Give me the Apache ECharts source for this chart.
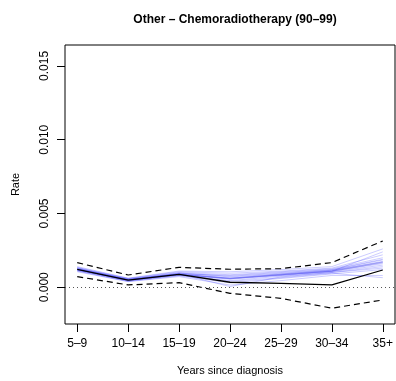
<!DOCTYPE html>
<html>
<head>
<meta charset="UTF-8">
<title>Other – Chemoradiotherapy (90–99)</title>
<script src="https://cdn.jsdelivr.net/npm/echarts@6/dist/echarts.min.js"></script>
<style>
  html, body { margin: 0; padding: 0; background: #fff; }
  #chart { width: 396px; height: 381px; }
</style>
</head>
<body>
<div id="chart"></div>
<script>
// x categories
var periods = ['5–9', '10–14', '15–19', '20–24', '25–29', '30–34', '35+'];
var yTicks = [0, 0.005, 0.010, 0.015];

// observed rate and its bounds
var observed = [0.00122, 0.00049, 0.00088, 0.00034, 0.00027, 0.00016, 0.00117];
var upper    = [0.00167, 0.00083, 0.00135, 0.00122, 0.00126, 0.00167, 0.00314];
var lower    = [0.00072, 0.00016, 0.00031, -0.00041, -0.00075, -0.00142, -0.00086];

// faint blue simulated lines
var sim1  = [0.00130, 0.00052, 0.00095, 0.00070, 0.00090, 0.00115, 0.00175];
var sim2  = [0.00115, 0.00045, 0.00085, 0.00055, 0.00080, 0.00105, 0.00150];
var sim3  = [0.00135, 0.00060, 0.00105, 0.00095, 0.00110, 0.00130, 0.00220];
var sim4  = [0.00110, 0.00040, 0.00078, 0.00030, 0.00060, 0.00090, 0.00120];
var sim5  = [0.00125, 0.00055, 0.00092, 0.00080, 0.00100, 0.00120, 0.00190];
var sim6  = [0.00105, 0.00038, 0.00072, 0.00015, 0.00045, 0.00080, 0.00080];
var sim7  = [0.00140, 0.00062, 0.00110, 0.00105, 0.00120, 0.00140, 0.00260];
var sim8  = [0.00120, 0.00048, 0.00088, 0.00062, 0.00085, 0.00110, 0.00160];
var sim9  = [0.00118, 0.00050, 0.00090, 0.00005, 0.00070, 0.00100, 0.00140];
var sim10 = [0.00128, 0.00058, 0.00100, 0.00085, 0.00105, 0.00125, 0.00200];
var sim11 = [0.00112, 0.00042, 0.00080, 0.00045, 0.00075, 0.00100, 0.00130];
var sim12 = [0.00132, 0.00054, 0.00096, 0.00075, 0.00095, 0.00118, 0.00185];
var sim13 = [0.00122, 0.00046, 0.00086, 0.00060, 0.00082, 0.00108, 0.00240];
var sim14 = [0.00116, 0.00050, 0.00084, 0.00040, 0.00065, 0.00095, 0.00065];
var simMean = [0.00122, 0.00050, 0.00089, 0.00060, 0.00086, 0.00110, 0.00170];

var sims = [sim1, sim2, sim3, sim4, sim5, sim6, sim7, sim8, sim9, sim10, sim11, sim12, sim13, sim14];

function pts(arr) {
  return arr.map(function (v, i) { return [i, v]; });
}

var series = [];
sims.forEach(function (s) {
  series.push({
    type: 'line', data: pts(s), symbol: 'none', silent: true,
    lineStyle: { color: 'rgba(0,0,255,0.2)', width: 1 }
  });
});
series.push({
  type: 'line', data: pts(simMean), symbol: 'none', silent: true,
  lineStyle: { color: 'rgba(60,60,235,0.45)', width: 1.5 }
});
series.push({
  type: 'line', data: pts(observed), symbol: 'none',
  lineStyle: { color: '#000', width: 1.3 },
  markLine: {
    silent: true, symbol: 'none', label: { show: false },
    lineStyle: { color: '#555', type: [1, 3], width: 1 },
    data: [{ yAxis: 0 }]
  }
});
series.push({
  type: 'line', data: pts(upper), symbol: 'none',
  lineStyle: { color: '#000', width: 1.2, type: [6, 4] }
});
series.push({
  type: 'line', data: pts(lower), symbol: 'none',
  lineStyle: { color: '#000', width: 1.2, type: [6, 4] }
});

var chart = echarts.init(document.getElementById('chart'), null, { renderer: 'canvas' });
chart.setOption({
  animation: false,
  textStyle: { fontFamily: 'Liberation Sans, Arial, sans-serif', color: '#000' },
  title: {
    text: 'Other – Chemoradiotherapy (90–99)',
    left: 230, top: 9, textAlign: 'center',
    textStyle: { fontSize: 12, fontWeight: 'bold', color: '#000', fontFamily: 'Liberation Sans, Arial, sans-serif' }
  },
  grid: {
    left: 65, right: 1, top: 45, bottom: 57,
    show: true, borderColor: '#000', borderWidth: 1
  },
  xAxis: {
    type: 'value', min: -0.24, max: 6.24,
    name: 'Years since diagnosis', nameLocation: 'middle', nameGap: 41,
    nameTextStyle: { fontSize: 11, color: '#000' },
    axisLine: { show: false, onZero: false },
    splitLine: { show: false },
    axisTick: { show: true, length: 8, inside: false, customValues: [0, 1, 2, 3, 4, 5, 6], lineStyle: { color: '#000' } },
    axisLabel: {
      fontSize: 12, color: '#000', margin: 14,
      customValues: [0, 1, 2, 3, 4, 5, 6],
      formatter: function (v) { return periods[Math.round(v)]; }
    }
  },
  yAxis: {
    type: 'value', min: -0.00249, max: 0.01642,
    name: 'Rate', nameLocation: 'middle', nameGap: 44, nameRotate: 90,
    nameTextStyle: { fontSize: 11, color: '#000' },
    axisLine: { show: false, onZero: false },
    splitLine: { show: false },
    axisTick: { show: true, length: 8, inside: false, customValues: yTicks, lineStyle: { color: '#000' } },
    axisLabel: {
      fontSize: 12, color: '#000', rotate: 90, margin: 14,
      customValues: yTicks,
      formatter: function (v) { return v.toFixed(3); }
    }
  },
  series: series
});
</script>
</body>
</html>
